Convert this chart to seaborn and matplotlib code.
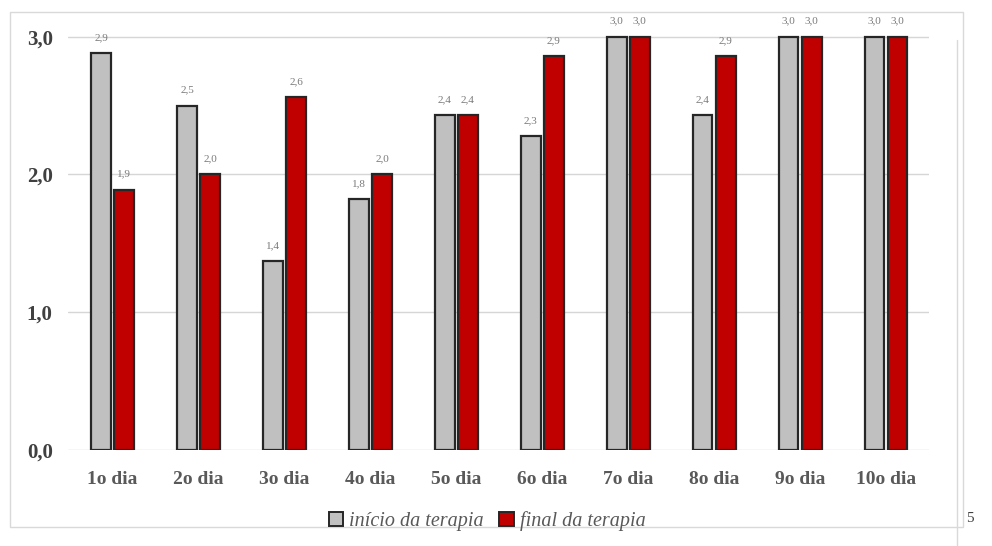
import matplotlib
matplotlib.use("Agg")
import matplotlib.pyplot as plt
import seaborn as sns
import pandas as pd
from matplotlib.patches import Rectangle, Patch
from matplotlib.lines import Line2D

categories = ["1o dia", "2o dia", "3o dia", "4o dia", "5o dia",
              "6o dia", "7o dia", "8o dia", "9o dia", "10o dia"]
inicio = [2.88, 2.50, 1.37, 1.82, 2.43, 2.28, 3.00, 2.43, 3.00, 3.00]
final = [1.89, 2.00, 2.56, 2.00, 2.43, 2.86, 3.00, 2.86, 3.00, 3.00]
series_names = ["início da terapia", "final da terapia"]
yticks = [0, 1, 2, 3]
ytick_labels = ["0,0", "1,0", "2,0", "3,0"]

df = pd.DataFrame({
    "dia": categories * 2,
    "valor": inicio + final,
    "serie": [series_names[0]] * len(categories) + [series_names[1]] * len(categories),
})

sns.set_theme(style="white")
plt.rcParams["font.family"] = ["Liberation Serif", "DejaVu Serif"]

fig = plt.figure(figsize=(9.92, 5.46), dpi=100)
ax = fig.add_axes([68 / 992, 1 - 450 / 546, (929 - 68) / 992, (450 - 16) / 546])

palette = {series_names[0]: "#c0c0c0", series_names[1]: "#c00000"}
sns.barplot(data=df, x="dia", y="valor", hue="serie", palette=palette,
            width=0.54, gap=0.15, edgecolor="#262626", linewidth=1.6,
            saturation=1, ax=ax, legend=False, zorder=3)

ax.set_ylim(0, 3.15)
ax.set_xlim(-0.52, 9.5)
ax.set_yticks(yticks)
ax.set_yticklabels(ytick_labels, fontsize=15, fontweight="bold", color="#404040")
ax.tick_params(axis="y", length=0, pad=11)
ax.tick_params(axis="x", length=0, pad=15)
for lbl in ax.get_xticklabels():
    lbl.set_fontsize(14)
    lbl.set_fontweight("bold")
    lbl.set_color("#595959")
ax.set_xlabel("")
ax.set_ylabel("")
for s in ax.spines.values():
    s.set_visible(False)
ax.yaxis.grid(True, color="#d6d6d6", linewidth=1.0, zorder=0)
ax.set_axisbelow(True)

for cont in ax.containers:
    for bar in cont:
        h = bar.get_height()
        ax.text(bar.get_x() + bar.get_width() / 2, h + 0.08,
                f"{h:.1f}".replace(".", ","), ha="center", va="bottom",
                fontsize=8, color="#7a7a7a", zorder=4)

handles = [Patch(facecolor=palette[n], edgecolor="#262626", linewidth=1.4) for n in series_names]
fig.legend(handles, series_names, loc="center", bbox_to_anchor=(487 / 992, 1 - 521 / 546),
           ncol=2, frameon=False, prop={"style": "italic", "size": 14.5},
           labelcolor="#595959", handlelength=0.7, handleheight=0.7,
           handletextpad=0.3, columnspacing=0.8)

# outer chart frame and page elements
fig.patches.append(Rectangle((10 / 992, 1 - 527 / 546), (963 - 10) / 992, (527 - 12) / 546,
                             transform=fig.transFigure, fill=False,
                             edgecolor="#d9d9d9", linewidth=1.0))
fig.lines.append(Line2D([957 / 992, 957 / 992], [0, 1 - 40 / 546],
                        transform=fig.transFigure, color="#d9d9d9", linewidth=1.0))
fig.text(970 / 992, 1 - 519 / 546, "5", fontsize=11, color="#404040", ha="center", va="center")

fig.savefig("out.png", dpi=100)
